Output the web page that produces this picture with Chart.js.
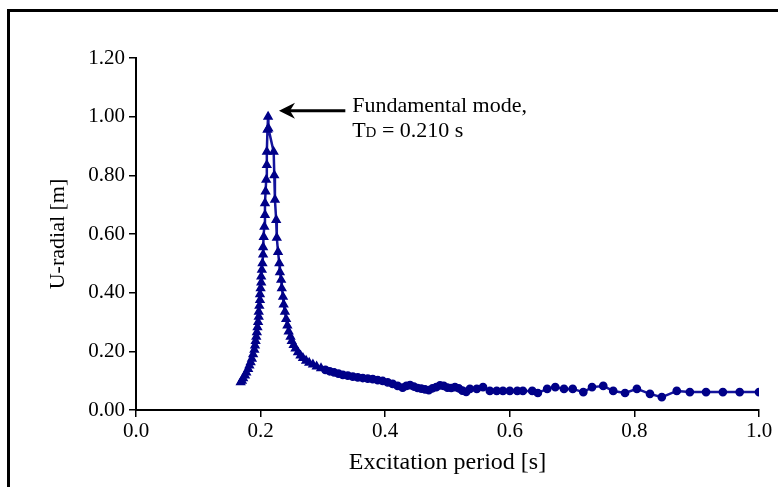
<!DOCTYPE html>
<html>
<head>
<meta charset="utf-8">
<script src="https://cdn.jsdelivr.net/npm/chart.js@4"></script>
<style>
  body { margin: 0; background: #fff; }
  #wrap { position: relative; width: 778px; height: 487px; }
  #frame { position: absolute; left: 7px; top: 9px; width: 800px; height: 500px;
           border-left: 3px solid #000; border-top: 3px solid #000; pointer-events: none; }
</style>
</head>
<body>
<div id="wrap">
  <canvas id="grafico" width="778" height="487"></canvas>
  <div id="frame"></div>
</div>
<script>
// periodo di eccitazione [s]
const periodo = [
  0.168, 0.170, 0.172, 0.175, 0.177, 0.180, 0.182, 0.184, 0.186, 0.188,
  0.190, 0.191, 0.192, 0.193, 0.194, 0.195, 0.196, 0.197, 0.197, 0.198,
  0.199, 0.199, 0.200, 0.201, 0.201, 0.202, 0.203, 0.204, 0.204, 0.205,
  0.206, 0.207, 0.207, 0.208, 0.209, 0.210, 0.210, 0.211, 0.212,
  0.2125, 0.221, 0.222, 0.223, 0.225, 0.226, 0.228, 0.230, 0.231, 0.233,
  0.234, 0.236, 0.237, 0.239, 0.241, 0.243, 0.245, 0.248, 0.250, 0.253,
  0.256, 0.260, 0.264, 0.268, 0.273, 0.278, 0.284, 0.290, 0.297, 0.304,
  0.311, 0.318, 0.325, 0.332, 0.340, 0.348, 0.356, 0.364, 0.372, 0.380,
  0.388, 0.396, 0.404, 0.412, 0.420, 0.428, 0.434, 0.440, 0.446, 0.452,
  0.458, 0.464, 0.470, 0.476, 0.482, 0.488, 0.494, 0.500, 0.506, 0.512,
  0.518, 0.524, 0.530, 0.536, 0.547, 0.557, 0.568, 0.579, 0.589, 0.600,
  0.612, 0.621, 0.636, 0.645, 0.660, 0.673, 0.687, 0.701, 0.718, 0.732,
  0.750, 0.766, 0.785, 0.804, 0.825, 0.844, 0.868, 0.889, 0.915, 0.942,
  0.969, 1.000
];
// spostamento radiale [m]
const uRadiale = [
  0.095, 0.100, 0.108, 0.118, 0.128, 0.140, 0.152, 0.163, 0.175, 0.190,
  0.205, 0.220, 0.235, 0.250, 0.265, 0.282, 0.300, 0.318, 0.335, 0.355,
  0.375, 0.395, 0.415, 0.435, 0.455, 0.478, 0.500, 0.530, 0.555, 0.590,
  0.625, 0.665, 0.705, 0.745, 0.785, 0.835, 0.880, 0.955, 1.000,
  0.960, 0.880, 0.800, 0.717, 0.648, 0.587, 0.539, 0.500, 0.470, 0.444,
  0.415, 0.386, 0.360, 0.335, 0.310, 0.288, 0.268, 0.250, 0.235, 0.222,
  0.210, 0.197, 0.186, 0.177, 0.168, 0.161, 0.155, 0.148, 0.142, 0.137,
  0.132, 0.128, 0.124, 0.120, 0.117, 0.114, 0.111, 0.109, 0.107, 0.105,
  0.102, 0.099, 0.094, 0.089, 0.082, 0.076, 0.082, 0.085, 0.080, 0.075,
  0.073, 0.070, 0.068, 0.074, 0.078, 0.084, 0.082, 0.076, 0.075, 0.078,
  0.074, 0.066, 0.062, 0.072, 0.072, 0.078, 0.065, 0.065, 0.065, 0.065,
  0.065, 0.065, 0.065, 0.058, 0.072, 0.078, 0.072, 0.072, 0.061, 0.078,
  0.082, 0.065, 0.058, 0.072, 0.055, 0.044, 0.065, 0.061, 0.061, 0.061,
  0.061, 0.061
];
const xTicks = [0.0, 0.2, 0.4, 0.6, 0.8, 1.0];
const yTicks = [0.00, 0.20, 0.40, 0.60, 0.80, 1.00, 1.20];

const punti = periodo.map((x, i) => ({ x: x, y: uRadiale[i] }));

// freccia e testo del modo fondamentale
const nota = {
  id: 'nota',
  afterDraw(chart) {
    const ctx = chart.ctx;
    const xs = chart.scales.x, ys = chart.scales.y;
    const punta = xs.getPixelForValue(0.2295);
    const coda = xs.getPixelForValue(0.336);
    const yf = ys.getPixelForValue(1.02);
    ctx.save();
    ctx.strokeStyle = '#000';
    ctx.fillStyle = '#000';
    ctx.lineWidth = 3;
    ctx.beginPath();
    ctx.moveTo(punta + 10, yf);
    ctx.lineTo(coda, yf);
    ctx.stroke();
    ctx.beginPath();
    ctx.moveTo(punta, yf);
    ctx.lineTo(punta + 16, yf - 8);
    ctx.lineTo(punta + 11, yf);
    ctx.lineTo(punta + 16, yf + 8);
    ctx.closePath();
    ctx.fill();

    const tx = xs.getPixelForValue(0.347);
    ctx.textBaseline = 'alphabetic';
    ctx.textAlign = 'left';
    ctx.font = '22px "Liberation Serif"';
    ctx.fillText('Fundamental mode,', tx, ys.getPixelForValue(1.017));
    let y2 = ys.getPixelForValue(0.932);
    ctx.fillText('T', tx, y2);
    let w = ctx.measureText('T').width;
    ctx.font = '15px "Liberation Serif"';
    ctx.fillText('D', tx + w, y2);
    w += ctx.measureText('D').width;
    ctx.font = '22px "Liberation Serif"';
    ctx.fillText(' = 0.210 s', tx + w, y2);
    ctx.restore();
  }
};

new Chart('grafico', {
  type: 'scatter',
  data: {
    datasets: [{
      data: punti,
      showLine: true,
      borderColor: '#14149c',
      borderWidth: 2.5,
      backgroundColor: '#000088',
      pointBorderColor: '#000088',
      pointBorderWidth: 1.5,
      pointRadius: c => (c.raw && c.raw.x < 0.3) ? 4.5 : 3.6,
      pointStyle: c => (c.raw && c.raw.x < 0.3) ? 'triangle' : 'circle',
      tension: 0
    }]
  },
  options: {
    responsive: false,
    animation: false,
    layout: { padding: { left: 0, top: 58, right: 19, bottom: 0 } },
    plugins: { legend: { display: false }, tooltip: { enabled: false } },
    scales: {
      x: {
        type: 'linear',
        min: 0, max: 1,
        afterBuildTicks: s => { s.ticks = xTicks.map(v => ({ value: v })); },
        afterFit: s => { s.height = 77; },
        border: { color: '#000', width: 2 },
        grid: { drawOnChartArea: false, drawTicks: true, tickLength: 7, color: '#000', lineWidth: 1.5 },
        ticks: {
          color: '#000', padding: 2,
          font: { family: 'Liberation Serif', size: 21 },
          callback: v => v.toFixed(1)
        },
        title: {
          display: true, text: 'Excitation period [s]', color: '#000',
          font: { family: 'Liberation Serif', size: 24 },
          padding: { top: 0, bottom: 10 }
        }
      },
      y: {
        type: 'linear',
        min: 0, max: 1.2,
        afterBuildTicks: s => { s.ticks = yTicks.map(v => ({ value: v })); },
        afterFit: s => { s.width = 136; },
        border: { color: '#000', width: 2 },
        grid: { drawOnChartArea: false, drawTicks: true, tickLength: 7, color: '#000', lineWidth: 1.5 },
        ticks: {
          color: '#000', padding: 4,
          font: { family: 'Liberation Serif', size: 21 },
          callback: v => v.toFixed(2)
        },
        title: {
          display: true, text: 'U-radial [m]', color: '#000',
          font: { family: 'Liberation Serif', size: 22 },
          padding: { top: 45, bottom: 0 }
        }
      }
    }
  },
  plugins: [nota]
});
</script>
</body>
</html>
